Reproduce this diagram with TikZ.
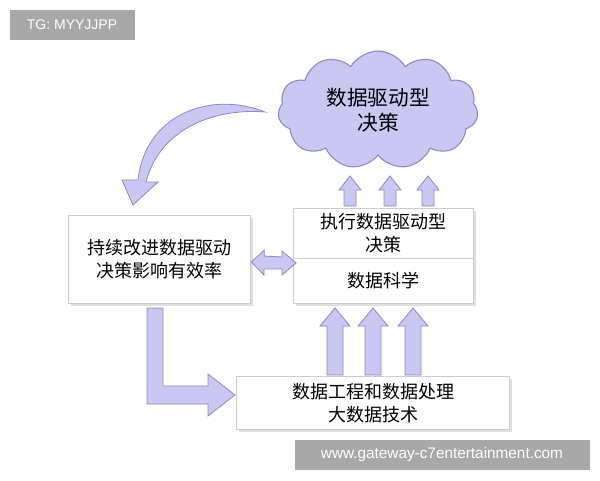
\documentclass[tikz,border=0pt]{standalone}
\usepackage{fontspec}
\setmainfont{Liberation Sans}
\newfontfamily\cjk{Noto Sans CJK SC}
\usetikzlibrary{shapes.symbols,shadows}
\definecolor{lav}{HTML}{C9C8F2}
\definecolor{lavd}{HTML}{8A89C0}
\definecolor{wm}{HTML}{A8A8A8}
\tikzset{
 box/.style={draw=gray!40, fill=white, drop shadow={opacity=0.25,shadow xshift=2pt,shadow yshift=-2pt}, inner sep=0pt, font=\cjk\fontsize{13.5}{17}\selectfont, align=center},
 arr/.style={draw=lavd, fill=lav, line width=0.6pt, line join=miter},
 wmbox/.style={fill=wm, text=white, font=\fontsize{10.5}{12}\selectfont, inner sep=0pt}
}
\begin{document}
\begin{tikzpicture}[x=0.75pt,y=-0.75pt]
\useasboundingbox (0,0) rectangle (600,480);
\node[wmbox, minimum width=125*0.75pt, minimum height=30*0.75pt] (wm1) at (72,25) {TG: MYYJJPP};
\node[cloud, cloud puffs=11, cloud puff arc=120, aspect=1.7, draw=lavd, fill=lav, line width=0.8pt, minimum width=200*0.75pt, minimum height=118*0.75pt, font=\cjk\fontsize{15.5}{19}\selectfont, align=center] (cloud) at (378,110) {数据驱动型\\决策};
\node[box, minimum width=180*0.75pt, minimum height=50*0.75pt] (exec) at (383,233) {执行数据驱动型\\决策};
\node[box, minimum width=180*0.75pt, minimum height=45*0.75pt] (sci) at (383,281) {数据科学};
\node[box, minimum width=182*0.75pt, minimum height=88*0.75pt] (left) at (159,259) {持续改进数据驱动\\决策影响有效率};
\node[box, minimum width=273*0.75pt, minimum height=53*0.75pt] (bottom) at (373,403) {数据工程和数据处理\\大数据技术};
% small up arrows
\foreach \x in {350,390,428}
 \draw[arr] (\x-6,206) -- (\x-6,190) -- (\x-11,190) -- (\x,176) -- (\x+11,190) -- (\x+6,190) -- (\x+6,206) -- cycle;
% big up arrows
\foreach \x in {335,373,413}
 \draw[arr] (\x-8,375) -- (\x-8,326) -- (\x-15,326) -- (\x,308) -- (\x+15,326) -- (\x+8,326) -- (\x+8,375) -- cycle;
% double arrow
\draw[arr] (left.east) ++(1,3) -- ++(13,-12) -- ++(0,6) -- (282,257) -- (282,251) -- (296,263) -- (282,275) -- (282,269) -- (264,269) -- (264,275) -- cycle;
\coordinate (Lend) at (235,395);
\draw[arr] (147,308) -- (163,308) -- (163,386) -- (208,386) -- (208,374) -- (Lend) -- (208,416) -- (208,404) -- (147,404) -- cycle;
\coordinate (ctip) at (133,205);
\draw[arr] (265,112) .. controls (210,90) and (145,115) .. (138,180) -- (122,180) -- (ctip) -- (158,182) -- (146,182) .. controls (160,128) and (215,108) .. (265,112) -- cycle;
\node[wmbox, minimum width=295*0.75pt, minimum height=30*0.75pt, font=\fontsize{11.5}{13}\selectfont] (wm2) at (442,455) {www.gateway-c7entertainment.com};
\end{tikzpicture}
\end{document}
